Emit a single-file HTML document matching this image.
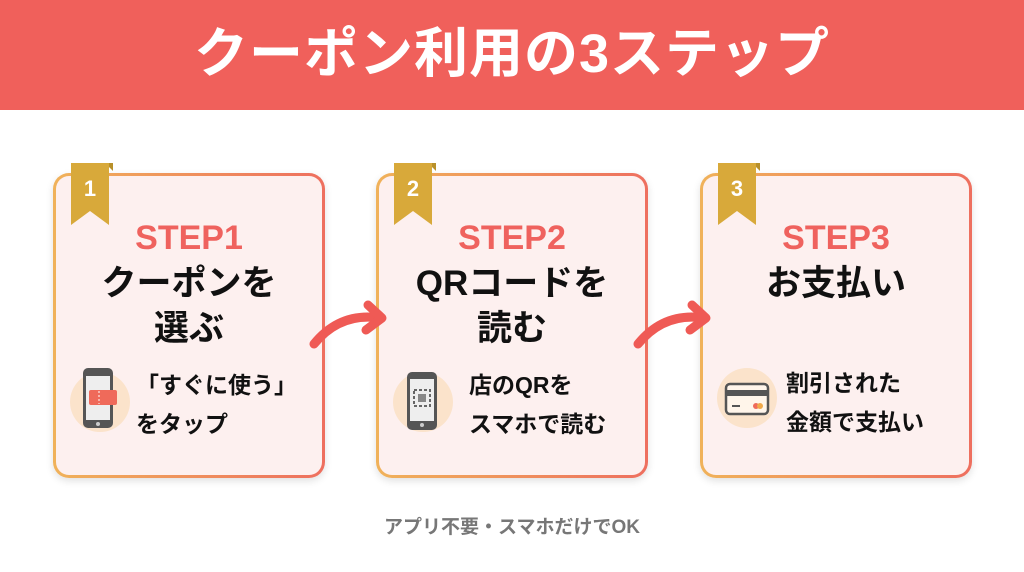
<!DOCTYPE html>
<html><head><meta charset="utf-8"><style>
*{margin:0;padding:0;box-sizing:border-box}
body{width:1024px;height:572px;background:#fff;position:relative;overflow:hidden;font-family:"Liberation Sans","Noto Sans CJK JP",sans-serif;font-weight:bold}
.hdr{position:absolute;left:0;top:0;width:1024px;height:110px;background:#f0605b;color:#fff;font-size:54px;text-align:center;line-height:108px;letter-spacing:1px}
.card{position:absolute;top:173px;width:272px;height:305px;border-radius:16px;padding:3px;background:linear-gradient(90deg,#f0b25a,#ee6f5f);box-shadow:0 3px 8px rgba(0,0,0,.12)}
.in{width:100%;height:100%;border-radius:13px;background:#fdf0ef;position:relative}
.step{position:absolute;left:0;width:100%;top:42px;text-align:center;color:#ef625e;font-size:34px;line-height:40px}
.ttl{position:absolute;left:0;width:100%;top:85px;text-align:center;color:#111;font-size:35px;line-height:45px}
.sub{position:absolute;left:87px;top:190px;color:#111;font-size:23px;line-height:39px;white-space:nowrap}
.ico{position:absolute;left:14px;top:196px;width:60px;height:60px;border-radius:50%;background:#fbe3cb}
.rib{position:absolute;top:-10px;left:16px}
.ft{position:absolute;top:512px;left:0;width:1024px;text-align:center;color:#777;font-size:19px}
</style></head><body>
<div class="hdr">クーポン利用の3ステップ</div>

<div class="card" style="left:53px"><div class="in">
<div class="step">STEP1</div>
<div class="ttl">クーポンを<br>選ぶ</div>
<div class="ico"></div>
<svg style="position:absolute;left:24px;top:190px" width="40" height="66"><rect x="3" y="2" width="30" height="60" rx="5" fill="#555"/><rect x="6" y="10" width="24" height="44" fill="#eee"/><circle cx="18" cy="58" r="2" fill="#ccc"/><rect x="9" y="24" width="28" height="15" rx="2" fill="#ef6a5a"/><line x1="19" y1="25" x2="19" y2="38" stroke="#fff" stroke-dasharray="2 2"/></svg>
<div class="sub" style="left:80px">「すぐに使う」<br>をタップ</div>
</div>
<svg class="rib" width="46" height="62"><path d="M2 0H36L44 8V0Z" fill="#b8902a"/><path d="M2 0H40V62L21 48L2 62Z" fill="#d8a93a"/><text x="21" y="33" text-anchor="middle" fill="#fff" font-size="22" font-family="Liberation Sans" font-weight="bold">1</text></svg>
</div>

<div class="card" style="left:376px"><div class="in">
<div class="step">STEP2</div>
<div class="ttl">QRコードを<br>読む</div>
<div class="ico"></div>
<svg style="position:absolute;left:26px;top:194px" width="36" height="64"><rect x="2" y="2" width="30" height="58" rx="5" fill="#555"/><rect x="5" y="9" width="24" height="42" fill="#eee"/><circle cx="17" cy="55" r="2" fill="#ccc"/><rect x="9" y="20" width="16" height="16" fill="none" stroke="#666" stroke-width="2" stroke-dasharray="3 2"/><rect x="13" y="24" width="8" height="8" fill="#888"/></svg>
<div class="sub" style="left:90px">店のQRを<br>スマホで読む</div>
</div>
<svg class="rib" width="46" height="62"><path d="M2 0H36L44 8V0Z" fill="#b8902a"/><path d="M2 0H40V62L21 48L2 62Z" fill="#d8a93a"/><text x="21" y="33" text-anchor="middle" fill="#fff" font-size="22" font-family="Liberation Sans" font-weight="bold">2</text></svg>
</div>

<div class="card" style="left:700px"><div class="in">
<div class="step">STEP3</div>
<div class="ttl">お支払い</div>
<div class="ico" style="top:192px"></div>
<svg style="position:absolute;left:20px;top:205px" width="50" height="40"><rect x="3" y="3" width="42" height="30" rx="4" fill="#fff5ea" stroke="#555" stroke-width="2.5"/><rect x="3" y="9" width="42" height="6" fill="#555"/><line x1="9" y1="25" x2="17" y2="25" stroke="#555" stroke-width="2"/><circle cx="33" cy="25" r="3" fill="#ef6a5a"/><circle cx="37" cy="25" r="3" fill="#f0a94a"/></svg>
<div class="sub" style="left:83px;top:188px">割引された<br>金額で支払い</div>
</div>
<svg class="rib" width="46" height="62"><path d="M2 0H36L44 8V0Z" fill="#b8902a"/><path d="M2 0H40V62L21 48L2 62Z" fill="#d8a93a"/><text x="21" y="33" text-anchor="middle" fill="#fff" font-size="22" font-family="Liberation Sans" font-weight="bold">3</text></svg>
</div>

<svg style="position:absolute;left:0;top:0" width="1024" height="572">
<g fill="none" stroke="#ef5a55" stroke-width="9" stroke-linecap="round" stroke-linejoin="round">
<path d="M314 344Q340 312 380 318"/><path d="M368 305L382 318L366 330"/>
<path d="M638 344Q664 312 704 318"/><path d="M692 305L706 318L690 330"/>
</g></svg>

<div class="ft">アプリ不要・スマホだけでOK</div>
</body></html>
